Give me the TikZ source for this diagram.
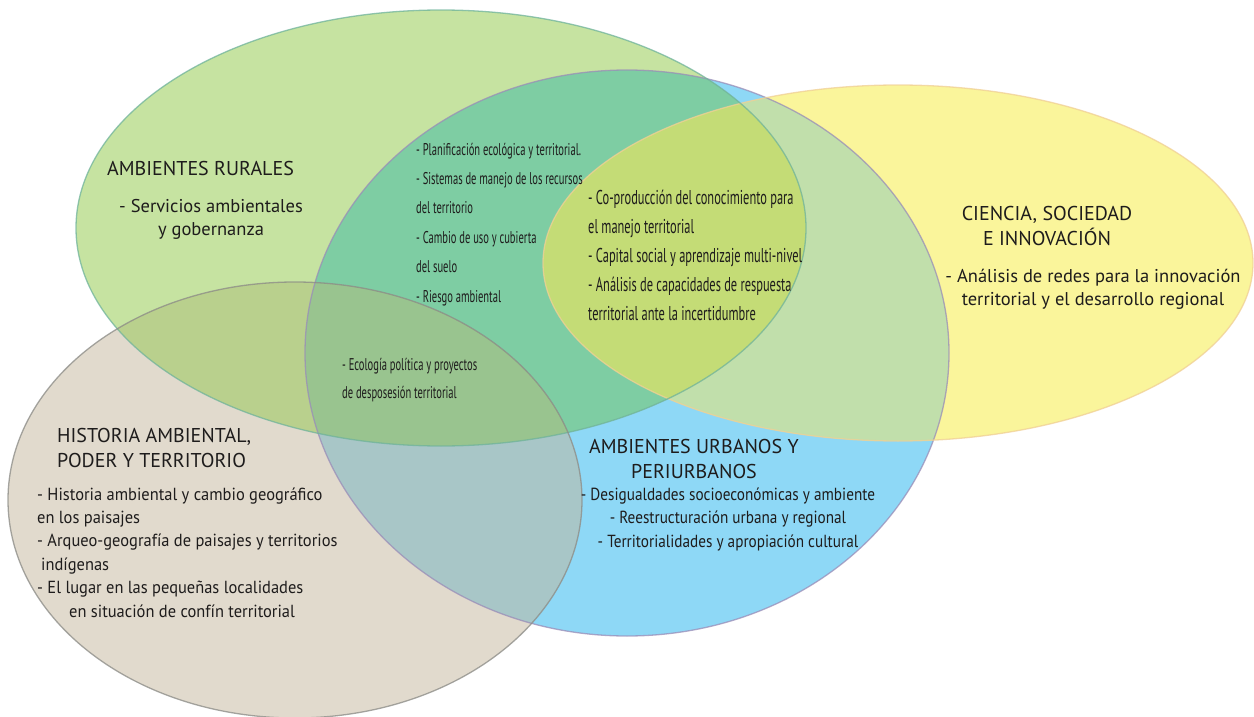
\documentclass[tikz,border=0pt]{standalone}
\usepackage{fontspec}
\setmainfont{PT Sans}
\newfontfamily\condf[FakeStretch=0.62]{PT Sans}
\newfontfamily\semiA[FakeStretch=0.87]{PT Sans}
\newfontfamily\semiB[FakeStretch=0.94]{PT Sans}
\definecolor{cG}{HTML}{C6E3A1}
\definecolor{cB}{HTML}{8ED8F6}
\definecolor{cY}{HTML}{FAF59B}
\definecolor{cBe}{HTML}{E1DACD}
\definecolor{cGB}{HTML}{7ECDA3}
\definecolor{cYB}{HTML}{C1DFAB}
\definecolor{cYGB}{HTML}{C4DC76}
\definecolor{cBeG}{HTML}{B9D08D}
\definecolor{cBeB}{HTML}{A8C6C7}
\definecolor{cBeGB}{HTML}{99C48F}
\definecolor{lG}{HTML}{6FB39B}
\definecolor{lB}{HTML}{9A8DB8}
\definecolor{lY}{HTML}{F0CF95}
\definecolor{lBe}{HTML}{8A8A85}
\definecolor{txt}{HTML}{1E1C1C}
\newcommand\ElG{(441,228) ellipse [x radius=365pt, y radius=218pt]}
\newcommand\ElB{(627,353) ellipse [x radius=322pt, y radius=283pt]}
\newcommand\ElY{(898,263) ellipse [x radius=355pt, y radius=178pt]}
\newcommand\ElBe{(295,500) ellipse [x radius=287pt, y radius=218pt]}
\tikzset{
  hd/.style={text=txt, inner sep=0pt, font=\fontsize{20}{25}\selectfont},
  bdW/.style={text=txt, inner sep=0pt, font=\fontsize{18.5}{23}\selectfont},
  bdB/.style={text=txt, inner sep=0pt, font=\semiA\fontsize{17.5}{23.4}\selectfont},
  bdBe/.style={text=txt, inner sep=0pt, font=\semiB\fontsize{17.5}{23.4}\selectfont},
  cdA/.style={text=txt, inner sep=0pt, font=\condf\fontsize{17}{29.4}\selectfont},
  cdB/.style={text=txt, inner sep=0pt, font=\condf\fontsize{20}{28.8}\selectfont},
  cdC/.style={text=txt, inner sep=0pt, font=\condf\fontsize{17}{28}\selectfont},
  rim/.style={line width=1.3pt, draw opacity=0.75}
}
\begin{document}
\begin{tikzpicture}[x=1pt,y=-1pt]
\useasboundingbox (0,0) rectangle (1254,717);
\fill[white] (0,0) rectangle (1254,717);
% base fills
\fill[cB] \ElB;
\fill[cG] \ElG;
\fill[cY] \ElY;
\fill[cBe] \ElBe;
% overlaps
\begin{scope}\clip \ElG; \fill[cGB] \ElB; \end{scope}
\begin{scope}\clip \ElY; \fill[cYB] \ElB; \end{scope}
\begin{scope}\clip \ElY; \clip \ElG; \fill[cYGB] \ElB; \end{scope}
\begin{scope}\clip \ElBe; \fill[cBeG] \ElG; \end{scope}
\begin{scope}\clip \ElBe; \fill[cBeB] \ElB; \end{scope}
\begin{scope}\clip \ElBe; \clip \ElG; \fill[cBeGB] \ElB; \end{scope}
% rims
\draw[rim, lB] \ElB;
\draw[rim, lY] \ElY;
\draw[rim, lG] \ElG;
\draw[rim, lBe] \ElBe;
% texts (multi-line nodes: base anchor = last line baseline)
\node[hd, anchor=base west] (tG) at (107,175) {AMBIENTES RURALES};
\node[bdW, align=center, anchor=base] (xG) at (211,235) {- Servicios ambientales\\y gobernanza};
\node[cdA, align=left, anchor=base west] (xGB) at (416,302) {- Planificación ecológica y territorial.\\- Sistemas de manejo de los recursos\\del territorio\\- Cambio de uso y cubierta\\del suelo\\- Riesgo ambiental};
\node[cdB, align=left, anchor=base west] (xYGB) at (588,320) {- Co-producción del conocimiento para\\el manejo territorial\\- Capital social y aprendizaje multi-nivel\\- Análisis de capacidades de respuesta\\territorial ante la incertidumbre};
\node[cdC, align=left, anchor=base west] (xBeGB) at (342,398) {- Ecología política y proyectos\\de desposesión territorial};
\node[hd, align=center, anchor=base] (tY) at (1047,245) {CIENCIA, SOCIEDAD\\E INNOVACIÓN};
\node[bdW, align=center, anchor=base] (xY) at (1093,305) {- Análisis de redes para la innovación\\territorial y el desarrollo regional};
\node[hd, align=center, anchor=base] (tB) at (694,478) {AMBIENTES URBANOS Y\\PERIURBANOS};
\node[bdB, align=center, anchor=base] (xB) at (728,547) {- Desigualdades socioeconómicas y ambiente\\- Reestructuración urbana y regional\\- Territorialidades y apropiación cultural};
\node[hd, align=left, anchor=base west] (tBe) at (57,467) {HISTORIA AMBIENTAL,\\PODER Y TERRITORIO};
\node[bdBe, align=left, anchor=base west] (xBe) at (37,617) {- Historia ambiental y cambio geográfico\\en los paisajes\\- Arqueo-geografía de paisajes y territorios\\\hspace*{4pt}indígenas\\- El lugar en las pequeñas localidades\\\hspace*{32pt}en situación de confín territorial};
\end{tikzpicture}
\end{document}
